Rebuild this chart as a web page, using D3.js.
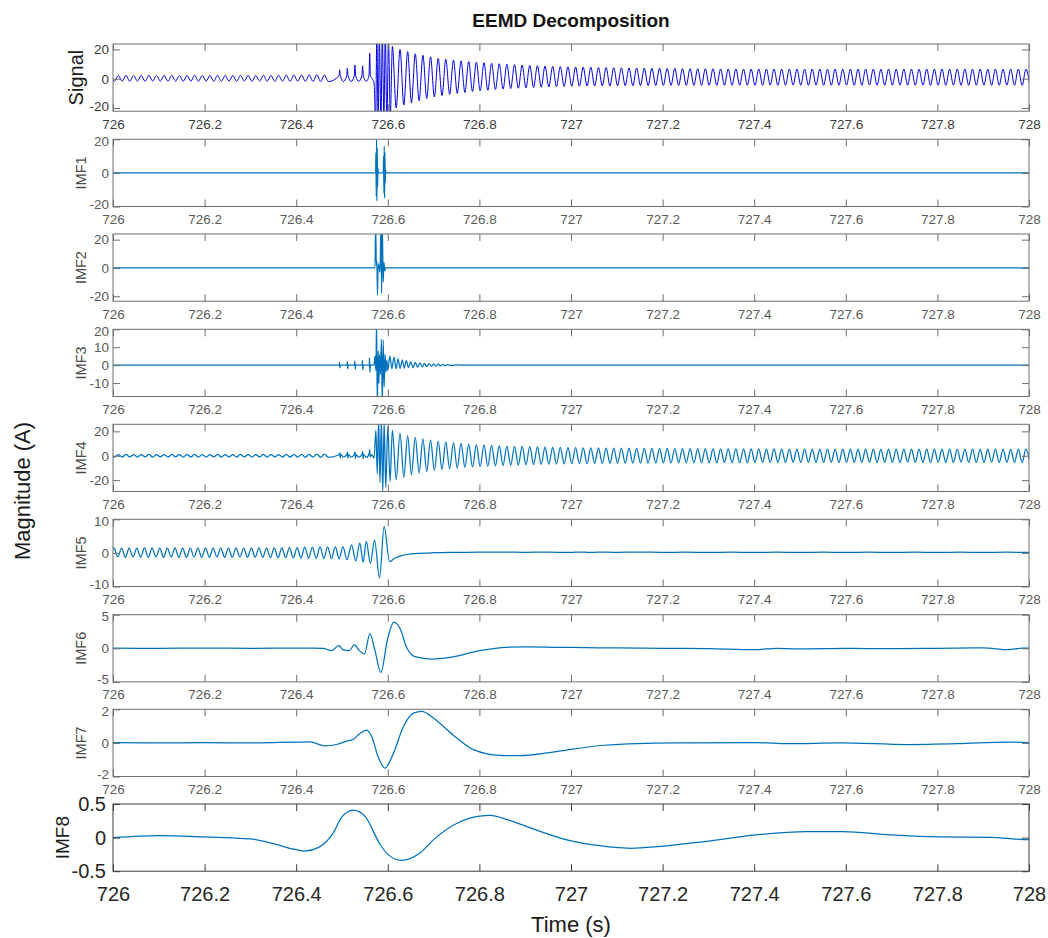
<!DOCTYPE html>
<html>
<head>
<meta charset="utf-8">
<title>EEMD Decomposition</title>
<script src="https://cdn.jsdelivr.net/npm/d3@7"></script>
<style>
  html, body { margin: 0; padding: 0; background: #fff; }
  svg { display: block; font-family: "Liberation Sans", Arial, Helvetica, sans-serif; }
</style>
</head>
<body>
<svg id="chart" width="1048" height="938"></svg>
<script>
// ---------------- data ----------------
const panelNames = ["Signal", "IMF1", "IMF2", "IMF3", "IMF4", "IMF5", "IMF6", "IMF7", "IMF8"];
const xTicks = [726, 726.2, 726.4, 726.6, 726.8, 727, 727.2, 727.4, 727.6, 727.8, 728];
const xTickLabels = ["726", "726.2", "726.4", "726.6", "726.8", "727", "727.2", "727.4", "727.6", "727.8", "728"];
const yTicks = [
  [-20, 0, 20], [-20, 0, 20], [-20, 0, 20], [-10, 0, 10, 20], [-20, 0, 20],
  [-10, 0, 10], [-5, 0, 5], [-2, 0, 2], [-0.5, 0, 0.5]
];
const yDomains = [
  [-22.2, 23.7], [-20, 20], [-23.5, 24], [-17.5, 20], [-29.3, 25.8],
  [-10, 10], [-5, 5], [-2, 2], [-0.5, 0.5]
];

// 60 Hz waves are stored as successive extrema (peak, trough, ...) one half cycle apart
const HALF_CYCLE = 1 / 120;

// Signal: pre-fault extrema from 725.995 s
const signalPreStart = 725.995;
const signalPre = [
  2.2,-1.8,2.2,-1.7,2.3,-1.8,2.2,-1.7,2.2,-1.8,2.3,-1.7,
  2.2,-1.8,2.2,-1.8,2.3,-1.7,2.2,-1.8,2.2,-1.7,2.3,-1.8,
  2.2,-1.7,2.2,-1.8,2.3,-1.8,2.2,-1.7,2.2,-1.8,2.3,-1.7,
  2.2,-1.8,2.2,-1.7,2.3,-1.8,2.2,-1.8,2.3,-1.7,2.4,-1.8,
  2.4,-1.7,2.5,-1.8,2.5,-1.8,2.6,-1.9,2.6,-2.0
];
// Signal: spikes and fault transient [time, value]
const signalEvent = [
  [726.4935,2.0],[726.4950,6.1],[726.4965,2.0],[726.5033,-1.9],
  [726.5102,2.0],[726.5117,7.2],[726.5132,2.0],[726.5200,-1.9],
  [726.5268,2.0],[726.5283,9.3],[726.5298,2.0],[726.5367,-1.8],
  [726.5435,2.2],[726.5450,8.8],[726.5465,2.0],[726.5533,-1.8],
  [726.5590,2.5],[726.5605,17.4],[726.5620,2.0],[726.5660,0.0],[726.5700,-3.0],
  [726.5735,-30],[726.5760,30],[726.5790,-30],[726.5815,28],[726.5850,-30],
  [726.5880,30],[726.5915,-26],[726.5945,30],[726.5980,-30],[726.6015,26],[726.6055,-25]
];
// Signal: post-fault extrema from 726.61 s
const signalPostStart = 726.61;
const signalPost = [
  22,-20, 20,-18, 18.5,-16.5, 17,-15, 16,-13.5, 15,-12.5,
  14,-11.5, 13.3,-10.7, 12.7,-10, 12.2,-9.4, 11.7,-8.8, 11.3,-8.3,
  10.9,-7.9, 10.5,-7.5, 10.2,-7.1, 9.9,-6.8, 9.6,-6.5, 9.3,-6.2,
  9.1,-6.0, 8.9,-5.8, 8.7,-5.6, 8.5,-5.4, 8.3,-5.3, 8.1,-5.2,
  8.0,-5.1, 7.9,-5.0, 7.8,-5.0, 7.7,-4.9, 7.6,-4.9, 7.5,-4.8,
  7.4,-4.8, 7.3,-4.8, 7.3,-4.7, 7.2,-4.7, 7.1,-4.7, 7.1,-4.6,
  7.0,-4.6, 7.0,-4.6, 6.9,-4.6, 6.9,-4.6, 6.8,-4.5, 6.8,-4.5,
  6.8,-4.5, 6.7,-4.5, 6.7,-4.5, 6.7,-4.5, 6.6,-4.5, 6.6,-4.5,
  6.6,-4.5, 6.6,-4.4, 6.6,-4.5, 6.5,-4.5, 6.6,-4.4, 6.6,-4.5,
  6.5,-4.5, 6.6,-4.4, 6.6,-4.5, 6.5,-4.5, 6.6,-4.5, 6.5,-4.4,
  6.6,-4.5, 6.5,-4.5, 6.6,-4.4, 6.6,-4.5, 6.5,-4.5, 6.6,-4.5,
  6.5,-4.4, 6.6,-4.5, 6.6,-4.5, 6.5,-4.4, 6.6,-4.5, 6.5,-4.5,
  6.6,-4.5, 6.5,-4.4, 6.6,-4.5, 6.6,-4.5, 6.5,-4.5, 6.6,-4.4,
  6.5,-4.5, 6.6,-4.5, 6.5,-4.4, 6.6,-4.5, 6.6,-4.5, 6.5,-4.5
];

// IMF1: flat with two bursts
const imf1 = [
  [726,0],[726.5735,0],[726.5740,12],[726.5748,-14],[726.5755,22],[726.5763,-16.7],
  [726.5770,15],[726.5778,-8],[726.5785,3],[726.5790,0],
  [726.5900,0],[726.5908,10],[726.5915,-12],[726.5922,16],[726.5930,-15],
  [726.5937,12],[726.5945,-6],[726.5952,2],[726.5960,0],[728,0]
];

// IMF2: flat with the fault burst
const imf2 = [
  [726,0],[726.5720,0],[726.5735,30],[726.5750,2],[726.5760,5],[726.5775,-19],
  [726.5790,3],[726.5810,1],[726.5830,-3],[726.5850,30],[726.5865,-18],
  [726.5880,30],[726.5900,-10],[726.5915,4],[726.5935,-2],[726.5950,0],[728,0]
];

// IMF3: small spikes, fault burst and decaying ringing
const imf3 = [
  [726,0],[726.4940,0],[726.4945,1.5],[726.4955,-1.5],[726.4965,0],
  [726.5110,0],[726.5115,2.0],[726.5125,-2.0],[726.5135,0],
  [726.5275,0],[726.5280,2.2],[726.5290,-2.2],[726.5300,0],
  [726.5440,0],[726.5445,2.6],[726.5455,-2.6],[726.5465,0],
  [726.5595,0],[726.5600,4.0],[726.5610,-4.0],[726.5620,0],
  [726.5700,0],[726.5720,5],[726.5740,-3],[726.5755,25],[726.5770,-22],[726.5790,8],
  [726.5805,-10],[726.5820,6],[726.5840,-5],[726.5860,14.5],[726.5880,-22],[726.5900,14],
  [726.5920,-12],[726.5940,6],[726.5960,-4],[726.5980,3],[726.6000,-3],
  [726.6045,5],[726.6090,-2],[726.6135,4.5],[726.6180,-2],[726.6225,3.5],[726.6270,-1.8],
  [726.6315,3],[726.6360,-1.6],[726.6405,2.5],[726.6450,-1.5],[726.6500,2],[726.6550,-1.4],
  [726.6600,1.6],[726.6650,-1.2],[726.6700,1.3],[726.6750,-1],[726.6800,1],[726.6850,-0.8],
  [726.6900,0.8],[726.6950,-0.7],[726.7000,0.6],[726.7050,-0.5],[726.7100,0.5],[726.7150,-0.4],
  [726.7200,0.4],[726.7250,-0.3],[726.7300,0.3],[726.7400,-0.2],[726.7500,0.2],[726.7600,0],[728,0]
];

// IMF4: pre-fault extrema from 725.995 s
const imf4PreStart = 725.995;
const imf4Pre = [
  1.0,-1.1,1.0,-1.1,1.1,-1.0,1.0,-1.1,1.0,-1.0,1.1,-1.1,
  1.0,-1.0,1.0,-1.1,1.1,-1.0,1.0,-1.1,1.0,-1.0,1.1,-1.1,
  1.0,-1.1,1.0,-1.0,1.1,-1.1,1.0,-1.0,1.0,-1.1,1.1,-1.0,
  1.0,-1.1,1.0,-1.0,1.1,-1.1,1.0,-1.0,1.0,-1.1,1.1,-1.1,
  1.1,-1.1,1.2,-1.2,1.2,-1.2,1.3,-1.3,1.3,-1.3
];
const imf4Event = [
  [726.4935,0.8],[726.4950,2.6],[726.4962,-1.8],[726.4975,0.9],[726.5033,-1.1],
  [726.5102,0.9],[726.5117,3.0],[726.5129,-2.0],[726.5142,1.0],[726.5200,-1.1],
  [726.5268,1.0],[726.5283,3.2],[726.5295,-2.2],[726.5308,1.0],[726.5367,-1.2],
  [726.5435,1.0],[726.5450,3.4],[726.5462,-2.4],[726.5475,1.0],[726.5533,-1.4],
  [726.5590,1.5],[726.5605,5.0],[726.5617,-1.0],[726.5650,1.0],[726.5700,-2.0],
  [726.5740,21],[726.5770,-15],[726.5800,30],[726.5830,-22],[726.5860,30],
  [726.5890,-30],[726.5920,28],[726.5955,-26],[726.6000,24],[726.6050,-21]
];
const imf4PostStart = 726.61;
const imf4Post = [
  21,-19.5, 18.5,-17.5, 16.5,-15.5, 15,-14.2, 13.8,-13, 12.8,-12,
  12,-11.3, 11.3,-10.7, 10.7,-10.1, 10.1,-9.6, 9.6,-9.2, 9.2,-8.9,
  8.9,-8.6, 8.6,-8.3, 8.3,-8.0, 8.0,-7.8, 7.8,-7.6, 7.6,-7.4,
  7.4,-7.2, 7.2,-7.0, 7.0,-6.9, 6.9,-6.8, 6.8,-6.7, 6.7,-6.6,
  6.6,-6.5, 6.5,-6.4, 6.4,-6.3, 6.4,-6.3, 6.3,-6.2, 6.3,-6.2,
  6.2,-6.1, 6.2,-6.1, 6.1,-6.0, 6.1,-6.0, 6.0,-6.0, 6.0,-5.9,
  6.0,-5.9, 5.9,-5.8, 5.9,-5.8, 5.8,-5.8, 5.8,-5.7, 5.8,-5.7,
  5.7,-5.7, 5.7,-5.6, 5.7,-5.6, 5.6,-5.6, 5.6,-5.6, 5.6,-5.5,
  5.6,-5.5, 5.5,-5.5, 5.6,-5.5, 5.5,-5.5, 5.5,-5.4, 5.5,-5.5,
  5.5,-5.4, 5.5,-5.5, 5.4,-5.4, 5.5,-5.4, 5.5,-5.5, 5.4,-5.4,
  5.5,-5.4, 5.4,-5.4, 5.5,-5.4, 5.4,-5.4, 5.4,-5.4, 5.5,-5.4,
  5.4,-5.4, 5.4,-5.3, 5.5,-5.4, 5.4,-5.4, 5.4,-5.4, 5.4,-5.3,
  5.4,-5.4, 5.4,-5.4, 5.4,-5.3, 5.4,-5.4, 5.4,-5.4, 5.4,-5.4,
  5.4,-5.3, 5.4,-5.4, 5.4,-5.4, 5.3,-5.4, 5.4,-5.4, 5.4,-5.3
];

// IMF5: pre-fault extrema from 725.9937 s, then the transient and settling
const imf5PreStart = 725.9937;
const imf5Pre = [
  -1.2,
  1.5,-1.2,1.4,-1.3,1.4,-1.2,1.4,-1.3,1.5,-1.3,1.4,-1.2,
  1.4,-1.3,1.4,-1.2,1.5,-1.3,1.4,-1.3,1.4,-1.2,1.4,-1.3,
  1.5,-1.3,1.4,-1.2,1.4,-1.3,1.4,-1.3,1.5,-1.2,1.4,-1.3,
  1.4,-1.3,1.5,-1.3,1.4,-1.4,1.5,-1.4,1.5,-1.4,1.6,-1.5,
  1.6,-1.5,1.7,-1.6,1.7,-1.6,1.8,-1.7,1.8,-1.7,1.9,-1.8
];
const imf5Event = [
  [726.502,1.9],[726.511,-2.0],[726.521,2.4],[726.530,-2.4],[726.539,2.9],[726.546,-2.8],
  [726.553,3.4],[726.562,-3.1],[726.571,3.8],[726.582,-7.5],[726.592,7.9],[726.604,-2.6],
  [726.615,-1.6],[726.630,-0.8],[726.645,-0.4],[726.660,-0.2],[726.700,0.05],[726.750,0.15],
  [726.800,0.2],[726.850,0.22],[726.900,0.18],[726.950,0.22],[727.000,0.15],[727.020,0.25],
  [727.040,0.15],[727.060,0.22],[727.100,0.18],[727.150,0.25],[727.200,0.16],[727.250,0.22],
  [727.300,0.15],[727.350,0.2],[727.400,0.15],[727.450,0.2],[727.500,0.17],[727.550,0.2],
  [727.600,0.15],[727.650,0.2],[727.700,0.16],[727.750,0.2],[727.800,0.15],[727.850,0.2],
  [727.900,0.18],[727.950,0.2],[728.000,0.18]
];

// IMF6 - IMF8: slow modes [time, value]
const imf6 = [
  [726.000,0.02],[726.100,0.0],[726.200,0.02],[726.300,0.0],[726.400,0.02],[726.459,0.0],
  [726.477,-0.35],[726.493,0.4],[726.503,-0.25],[726.516,-0.35],[726.527,0.5],[726.538,-0.35],
  [726.549,-0.85],[726.561,2.2],[726.572,-0.35],[726.585,-3.6],[726.599,1.2],[726.613,3.9],
  [726.627,2.9],[726.641,0.15],[726.659,-1.25],[726.696,-1.6],[726.736,-1.35],[726.801,-0.35],
  [726.859,0.15],[726.900,0.2],[727.000,0.12],[727.100,0.05],[727.200,0.0],[727.300,-0.05],
  [727.400,-0.2],[727.450,0.0],[727.500,-0.1],[727.600,-0.02],[727.700,-0.06],[727.800,0.0],
  [727.900,0.05],[727.955,-0.2],[727.985,0.02],[728.000,0.02]
];
const imf7 = [
  [726.000,0.02],[726.100,0.0],[726.200,0.01],[726.300,0.0],[726.430,0.06],[726.463,-0.18],
  [726.490,-0.08],[726.510,0.1],[726.524,0.2],[726.539,0.56],[726.554,0.76],[726.565,0.36],
  [726.579,-0.84],[726.594,-1.5],[726.612,-0.64],[726.634,0.96],[726.656,1.77],[726.674,1.87],
  [726.700,1.47],[726.743,0.46],[726.787,-0.4],[726.845,-0.74],[726.889,-0.76],[726.948,-0.6],
  [727.000,-0.38],[727.072,-0.14],[727.146,-0.04],[727.256,0.0],[727.403,0.02],[727.476,-0.05],
  [727.587,0.0],[727.734,-0.1],[727.844,-0.05],[727.954,0.05],[728.000,0.02]
];
const imf8 = [
  [726.000,0.0],[726.100,0.03],[726.200,0.01],[726.300,-0.02],[726.350,-0.09],[726.400,-0.18],
  [726.419,-0.2],[726.448,-0.15],[726.481,0.07],[726.499,0.3],[726.525,0.41],[726.550,0.32],
  [726.583,-0.1],[726.600,-0.25],[726.630,-0.34],[726.670,-0.23],[726.700,-0.03],[726.750,0.21],
  [726.800,0.32],[726.823,0.33],[726.860,0.27],[726.889,0.2],[727.000,-0.05],[727.087,-0.14],
  [727.130,-0.16],[727.196,-0.13],[727.292,-0.06],[727.403,0.04],[727.513,0.09],[727.594,0.09],
  [727.697,0.04],[727.808,0.01],[727.917,0.005],[727.990,-0.03],[728.000,-0.03]
];

// ---------------- assemble series ----------------
const onGrid = (start, values) => values.map((v, i) => [start + i * HALF_CYCLE, v]);

const series = [
  [...onGrid(signalPreStart, signalPre), ...signalEvent, ...onGrid(signalPostStart, signalPost)],
  imf1,
  imf2,
  imf3,
  [...onGrid(imf4PreStart, imf4Pre), ...imf4Event, ...onGrid(imf4PostStart, imf4Post)],
  [...onGrid(imf5PreStart, imf5Pre), ...imf5Event],
  imf6,
  imf7,
  imf8
];

// ---------------- layout ----------------
const left = 113, right = 1029;
const panelTops = [44, 139.3, 234, 329.3, 424.3, 519.3, 614.7, 709.3, 804];
const panelH = 67.2;
const tickLen = 7;

const svg = d3.select("#chart");
const x = d3.scaleLinear().domain([726, 728]).range([left, right]);

const defs = svg.append("defs");

panelNames.forEach((name, i) => {
  const top = panelTops[i], bottom = top + panelH;
  const last = i === panelNames.length - 1;
  const first = i === 0;
  const y = d3.scaleLinear().domain(yDomains[i]).range([bottom, top]);

  const tickFont = last ? 20 : 13.5;
  const tickColor = last ? "#262626" : (first ? "#3a3a3a" : "#5a5a5a");
  const axisColor = last ? "#3c3c3c" : "#6e6e6e";

  const g = svg.append("g").attr("class", "panel");

  // plot area clip
  defs.append("clipPath").attr("id", "clip" + i)
    .append("rect").attr("x", left).attr("y", top).attr("width", right - left).attr("height", panelH);

  // trace
  const line = d3.line()
    .x(d => x(d[0]))
    .y(d => y(d[1]))
    .curve(d3.curveMonotoneX);

  g.append("path")
    .datum(series[i])
    .attr("clip-path", "url(#clip" + i + ")")
    .attr("fill", "none")
    .attr("stroke", first ? "#0000e0" : "#0072bd")
    .attr("stroke-width", first ? 1 : 1.25)
    .attr("stroke-linejoin", "round")
    .attr("d", line);

  // axes (inward ticks on all four sides)
  const styleAxis = sel => {
    sel.select(".domain").remove();
    sel.selectAll(".tick line").attr("stroke", axisColor).attr("stroke-width", 1);
    sel.selectAll(".tick text")
      .attr("fill", tickColor)
      .attr("font-size", tickFont)
      .attr("font-family", "'Liberation Sans', Arial, Helvetica, sans-serif");
  };

  g.append("g").attr("transform", `translate(0,${bottom})`)
    .call(d3.axisBottom(x).tickValues(xTicks).tickSizeInner(-tickLen).tickSizeOuter(0)
      .tickPadding(last ? 16 : 8).tickFormat((d, k) => xTickLabels[k]))
    .call(styleAxis);
  g.append("g").attr("transform", `translate(0,${top})`)
    .call(d3.axisTop(x).tickValues(xTicks).tickSizeInner(-tickLen).tickSizeOuter(0).tickFormat(""))
    .call(styleAxis);
  const yAxisG = g.append("g").attr("transform", `translate(${left},0)`)
    .call(d3.axisLeft(y).tickValues(yTicks[i]).tickSizeInner(-tickLen).tickSizeOuter(0)
      .tickPadding(last ? 7 : 4).tickFormat(d => String(d)))
    .call(styleAxis);
  // labels sitting on the box corners are nudged inward, clear of the time labels
  if (!last) {
    yAxisG.selectAll(".tick text")
      .filter(d => y(d) > bottom - 4)
      .attr("dy", "0.15em");
    yAxisG.selectAll(".tick text")
      .filter(d => y(d) < top + 4)
      .attr("dy", "0.45em");
  }
  g.append("g").attr("transform", `translate(${right},0)`)
    .call(d3.axisRight(y).tickValues(yTicks[i]).tickSizeInner(-tickLen).tickSizeOuter(0).tickFormat(""))
    .call(styleAxis);

  // box
  g.append("rect")
    .attr("x", left).attr("y", top).attr("width", right - left).attr("height", panelH)
    .attr("fill", "none").attr("stroke", axisColor).attr("stroke-width", 1);

  // y label
  const labelX = first ? 75.5 : (last ? 62 : 80.5);
  const labelSize = first ? 20 : (last ? 19 : 14.5);
  svg.append("text")
    .attr("transform", `translate(${labelX},${top + panelH / 2}) rotate(-90)`)
    .attr("text-anchor", "middle")
    .attr("dominant-baseline", "central")
    .attr("font-size", labelSize)
    .attr("fill", (first || last) ? "#1a1a1a" : "#4a4a4a")
    .text(name);
});

// title and shared labels
svg.append("text")
  .attr("x", (left + right) / 2).attr("y", 27)
  .attr("text-anchor", "middle")
  .style("font-size", "19px").style("font-weight", "bold").attr("fill", "#111")
  .text("EEMD Decomposition");

svg.append("text")
  .attr("x", (left + right) / 2).attr("y", 932)
  .attr("text-anchor", "middle")
  .attr("font-size", 22).attr("fill", "#1a1a1a")
  .text("Time (s)");

svg.append("text")
  .attr("transform", "translate(22,491) rotate(-90)")
  .attr("text-anchor", "middle")
  .attr("dominant-baseline", "central")
  .attr("font-size", 22).attr("fill", "#1a1a1a")
  .text("Magnitude (A)");
</script>
</body>
</html>
